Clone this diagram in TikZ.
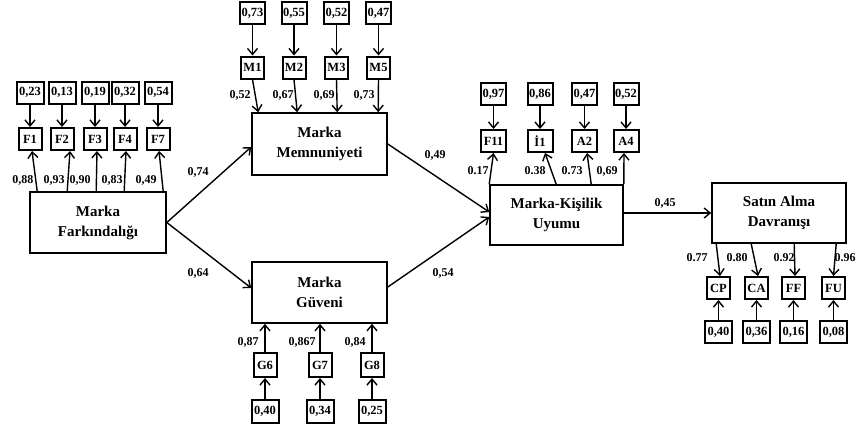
\documentclass[tikz,border=0pt]{standalone}
\usepackage{fontspec}
\setmainfont{Liberation Serif}
\usetikzlibrary{arrows.meta}
\tikzset{
  errbox/.style={draw, line width=2pt, minimum width=27pt, minimum height=22pt, inner sep=0pt, font=\bfseries\fontsize{12.5}{14}\selectfont},
  indbox/.style={draw, line width=2pt, minimum width=23pt, minimum height=22pt, inner sep=0pt, font=\bfseries\fontsize{12.5}{14}\selectfont},
  latbox/.style={draw, line width=1.6pt, inner sep=0pt, align=center, font=\bfseries\fontsize{15}{20}\selectfont},
  arr/.style={line width=1.4pt, -{Straight Barb[length=6pt,width=10pt,line width=1.4pt]}},
  lbl/.style={inner sep=0pt, font=\bfseries\fontsize{12}{14}\selectfont}
}
\begin{document}
\begin{tikzpicture}[x=1pt,y=-1pt]
\useasboundingbox (0,0) rectangle (858,431);
% latent boxes
\node[latbox, minimum width=136pt, minimum height=61pt] (MF) at (98,222.5) {Marka\\Farkındalığı};
\node[latbox, minimum width=135pt, minimum height=62pt] (MM) at (319.5,144) {Marka\\Memnuniyeti};
\node[latbox, minimum width=135pt, minimum height=61pt] (MG) at (319.5,292.5) {Marka\\Güveni};
\node[latbox, minimum width=133pt, minimum height=60pt] (MKU) at (556.5,215) {Marka-Kişilik\\Uyumu};
\node[latbox, minimum width=134pt, minimum height=60pt] (SA) at (779,213) {Satın Alma\\Davranışı};

% F group
\foreach \n/\x/\e in {F1/30/{0,23}, F2/62/{0,13}, F3/95/{0,19}, F4/125/{0,32}, F7/158/{0,54}}{
  \node[errbox] (e\n) at (\x,92.5) {\e};
  \node[indbox] (\n) at (\x,139) {\n};
  \draw[arr] (e\n) -- (\n);
}
\draw[arr] ([xshift=8pt]MF.north west) -- ([xshift=2pt]F1.south);
\draw[arr] ([xshift=38pt]MF.north west) -- ([xshift=8pt]F2.south);
\draw[arr] ([xshift=67pt]MF.north west) -- ([xshift=2pt]F3.south);
\draw[arr] ([xshift=95pt]MF.north west) -- ([xshift=1pt]F4.south);
\draw[arr] ([xshift=134pt]MF.north west) -- ([xshift=1pt]F7.south);
\node[lbl] (lf1) at (23,180) {0,88};
\node[lbl] (lf2) at (54,180) {0,93};
\node[lbl] (lf3) at (80,180) {0,90};
\node[lbl] (lf4) at (112,180) {0,83};
\node[lbl] (lf7) at (146,180) {0,49};

% M group
\foreach \n/\x/\e in {M1/252.5/{0,73}, M2/294/{0,55}, M3/336.5/{0,52}, M5/378.5/{0,47}}{
  \node[errbox, minimum width=25pt] (e\n) at (\x,13) {\e};
  \node[indbox] (\n) at (\x,67.5) {\n};
  \draw[arr] (e\n) -- (\n);
}
\draw[arr] (M1.south) -- ([xshift=7pt]MM.north west);
\draw[arr] (M2.south) -- ([xshift=46pt]MM.north west);
\draw[arr] (M3.south) -- ([xshift=86pt]MM.north west);
\draw[arr] (M5.south) -- ([xshift=127pt]MM.north west);
\node[lbl] (lm1) at (240,95) {0,52};
\node[lbl] (lm2) at (283,95) {0,67};
\node[lbl] (lm3) at (324,95) {0,69};
\node[lbl] (lm5) at (364,95) {0,73};

% G group
\foreach \n/\x/\e in {G6/265/{0,40}, G7/320/{0,34}, G8/372/{0,25}}{
  \node[indbox, minimum height=24pt] (\n) at (\x,365) {\n};
  \node[errbox, minimum height=23pt] (e\n) at (\x,411.5) {\e};
  \draw[arr] (e\n) -- (\n);
  \draw[arr] (\n) -- (\n.north |- MG.south);
}
\node[lbl] (lg6) at (248,342) {0,87};
\node[lbl] (lg7) at (302,342) {0,867};
\node[lbl] (lg8) at (355,342) {0,84};

% MKU group
\foreach \n/\t/\x/\e in {F11/F11/493.5/{0,97}, I1/İ1/540/{0,86}, A2/A2/584.5/{0,47}, A4/A4/626/{0,52}}{
  \node[errbox, minimum width=25pt] (e\n) at (\x,94) {\e};
  \node[indbox, minimum width=25pt] (\n) at (\x,141) {\t};
  \draw[arr] (e\n) -- (\n);
}
\draw[arr] (MKU.north west) -- (F11.south);
\draw[arr] ([xshift=67pt]MKU.north west) -- ([xshift=5pt]I1.south);
\draw[arr] ([xshift=102pt]MKU.north west) -- ([xshift=2.5pt]A2.south);
\draw[arr] (MKU.north east) -- ([xshift=-2pt]A4.south);
\node[lbl] (lk1) at (478,171) {0.17};
\node[lbl] (lk2) at (535,171) {0.38};
\node[lbl] (lk3) at (572,171) {0.73};
\node[lbl] (lk4) at (607,171) {0,69};

% SA group
\foreach \n/\x/\e in {CP/718.5/{0,40}, CA/756.5/{0,36}, FF/793.5/{0,16}, FU/833.5/{0,08}}{
  \node[indbox] (\n) at (\x,288) {\n};
  \node[errbox] (e\n) at (\x,332) {\e};
  \draw[arr] (e\n) -- (\n);
}
\draw[arr] ([xshift=5pt]SA.south west) -- ([xshift=1.5pt]CP.north);
\draw[arr] ([xshift=40pt]SA.south west) -- ([xshift=1.5pt]CA.north);
\draw[arr] ([xshift=83pt]SA.south west) -- ([xshift=1.5pt]FF.north);
\draw[arr] ([xshift=125pt]SA.south west) -- (FU.north);
\node[lbl] (ls1) at (697,258) {0.77};
\node[lbl] (ls2) at (737,258) {0.80};
\node[lbl] (ls3) at (784,258) {0.92};
\node[lbl] (ls4) at (845,258) {0.96};

% structural paths
\draw[arr] (MF.east) -- ([yshift=-3pt]MM.west);
\draw[arr] (MF.east) -- ([yshift=4.5pt]MG.west);
\draw[arr] (MM.east) -- ([yshift=3pt]MKU.west);
\draw[arr] ([yshift=5.5pt]MG.east) -- ([yshift=-2pt]MKU.west);
\draw[arr] ([yshift=2pt]MKU.east) -- (SA.west);
\node[lbl] (p1) at (198,172) {0,74};
\node[lbl] (p2) at (198,273) {0,64};
\node[lbl] (p3) at (435,155) {0,49};
\node[lbl] (p4) at (443,273) {0,54};
\node[lbl] (p5) at (665,203) {0,45};
\end{tikzpicture}
\end{document}
